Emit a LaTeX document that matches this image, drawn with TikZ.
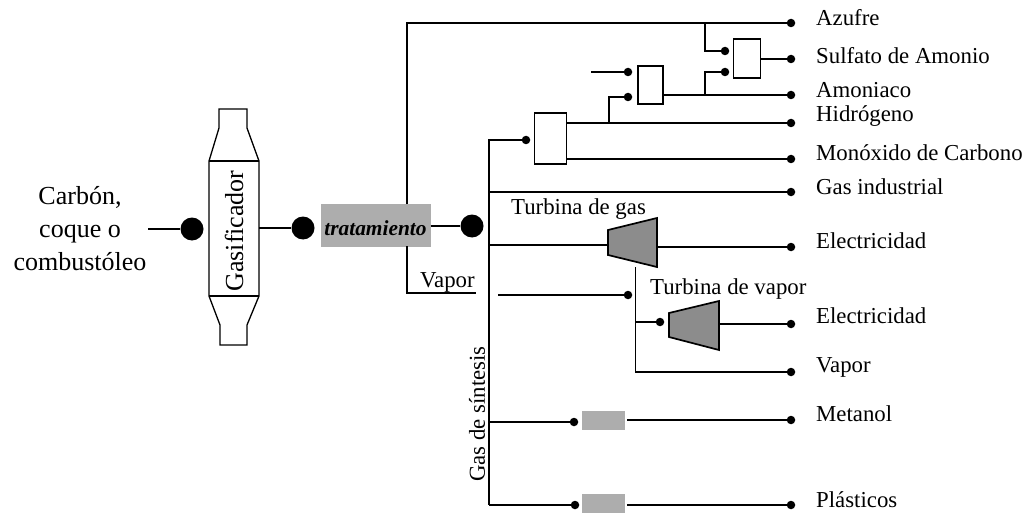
\documentclass[tikz,border=0pt]{standalone}
\usepackage{fontspec}
\setmainfont{Liberation Serif}
\usetikzlibrary{positioning}
\tikzset{
  pipe/.style={line width=1.5pt},
  bigdot/.style={circle,fill=black,inner sep=0pt,minimum size=23pt},
  dot/.style={circle,fill=black,inner sep=0pt,minimum size=8.5pt},
  unitbox/.style={draw,line width=1.5pt,fill=white,inner sep=0pt},
  graybox/.style={fill=black!32,inner sep=0pt},
  turbine/.style={draw,line width=1.7pt,line join=miter,fill=black!45},
  lab/.style={font=\fontsize{22.8}{24}\selectfont,inner sep=0pt,anchor=west}
}
\begin{document}
\begin{tikzpicture}[x=1pt,y=-1pt]
 \useasboundingbox (0,0) rectangle (1035,513);
 % gasificador
 \draw[line width=1.3pt,fill=white] (219,109) -- (247,109) -- (247,128) -- (259,161) -- (259,296)
   -- (247,325) -- (247,345) -- (220,345) -- (220,325) -- (209,296) -- (209,161) -- (219,128) -- cycle;
 \draw[line width=1.3pt] (209,161) -- (259,161) (209,296) -- (259,296);
 \node[font=\fontsize{26}{28}\selectfont,rotate=90,inner sep=0pt] (gasif) at (234,231) {Gasificador};
 \node[font=\fontsize{26}{33}\selectfont,align=center,inner sep=0pt] (carbon) at (80,229) {Carbón,\\coque o\\combustóleo};
 \node[bigdot] (d1) at (192,229) {};
 \node[bigdot] (d2) at (303,228) {};
 \node[bigdot] (d3) at (472,226) {};
 \node[graybox,minimum width=110pt,minimum height=43pt] (trat) at (375.5,225) {};
 \node[font=\fontsize{21.4}{23}\selectfont\itshape\bfseries,inner sep=0pt] (tratlab) at (375.5,228) {tratamiento};
 \coordinate (cin) at (148,229);
 \draw[pipe] (cin) -- (d1);
 \draw[pipe] (259,228) -- (d2);
 \draw[pipe] (trat.east |- d3) -- (d3);
 % azufre y vapor
 \coordinate (vend) at (476,293);
 \draw[pipe] (407,204) -- (407,23) -- (791,23);
 \draw[pipe] (407,246) -- (407,293) -- (vend);
 \node[lab] (vaporlab) at (420,282) {Vapor};
 % salidas
 \foreach \nm/\ty/\dy/\txt in {azu/18/23/Azufre,sul/56/59/Sulfato de Amonio,amo/90/95/Amoniaco,
     hid/116/123/Hidrógeno,mon/153/159/Monóxido de Carbono,gas/187/192/Gas industrial,
     ele/241/247/Electricidad,elv/316/324/Electricidad,vap/367/372/Vapor,
     met/414/420/Metanol,pla/500/505/Plásticos}{
   \node[dot] (o\nm) at (791,\dy) {};
   \node[lab] (l\nm) at (816,\ty) {\txt};
 }
 % bus de gas de sintesis
 \node[unitbox,minimum width=32pt,minimum height=51pt] (sep) at (550.5,138.5) {};
 \node[dot] (dsep) at (526,140) {};
 \coordinate (bustop) at (489,140);
 \coordinate (busbot) at (489,505);
 \draw[pipe] (dsep) -- (bustop) -- (busbot);
 \node[rotate=90,font=\fontsize{22.8}{24}\selectfont,inner sep=0pt] (sintesis) at (477,414) {Gas de síntesis};
 \draw[pipe] (489,192) -- (ogas);
 \draw[pipe] (567,123) -- (ohid);
 \draw[pipe] (567,159) -- (omon);
 % amoniaco
 \node[unitbox,minimum width=25pt,minimum height=38pt] (amon) at (650.5,85) {};
 \node[dot] (damu) at (628,72) {};
 \node[dot] (daml) at (628,97) {};
 \coordinate (h2free) at (591,72);
 \draw[pipe] (h2free) -- (damu);
 \draw[pipe] (609,123) -- (609,97) -- (daml);
 \draw[pipe] (amon.east |- oamo) -- (oamo);
 % sulfato
 \node[unitbox,minimum width=27pt,minimum height=39pt] (sulf) at (747,58.5) {};
 \node[dot] (dsuu) at (725,51) {};
 \node[dot] (dsul) at (725,72) {};
 \draw[pipe] (705,23) -- (705,51) -- (dsuu);
 \draw[pipe] (705,95) -- (705,72) -- (dsul);
 \draw[pipe] (sulf.east |- osul) -- (osul);
 % turbina de gas
 \draw[pipe] (489,245) -- (608,245);
 \draw[pipe] (657,247) -- (oele);
 \draw[pipe] (635.5,267) -- (635.5,372) -- (ovap);
 \draw[turbine] (608,230) -- (657,218) -- (657,267) -- (608,255) -- cycle;
 \node[lab] (tglab) at (511,209) {Turbina de gas};
 % turbina de vapor
 \node[dot] (dvin) at (628,295) {};
 \node[dot] (dtv) at (660,322) {};
 \coordinate (vfree) at (498,295);
 \draw[pipe] (vfree) -- (dvin);
 \draw[pipe] (635.5,322) -- (dtv);
 \draw[pipe] (719,324) -- (oelv);
 \draw[turbine] (669,313) -- (719,301) -- (719,350) -- (669,337) -- cycle;
 \node[lab] (tvlab) at (650,289) {Turbina de vapor};
 % metanol y plasticos
 \node[graybox,minimum width=43pt,minimum height=19pt] (bmet) at (603.5,420.5) {};
 \node[graybox,minimum width=43pt,minimum height=19pt,anchor=north] (bpla) at (603.5,494) {};
 \node[dot] (dmet) at (574,422) {};
 \node[dot] (dpla) at (575,505) {};
 \draw[pipe] (489,422) -- (dmet);
 \draw[pipe] (busbot) -- (dpla);
 \draw[pipe] (627,420) -- (omet);
 \draw[pipe] (627,505) -- (opla);
\end{tikzpicture}
\end{document}
